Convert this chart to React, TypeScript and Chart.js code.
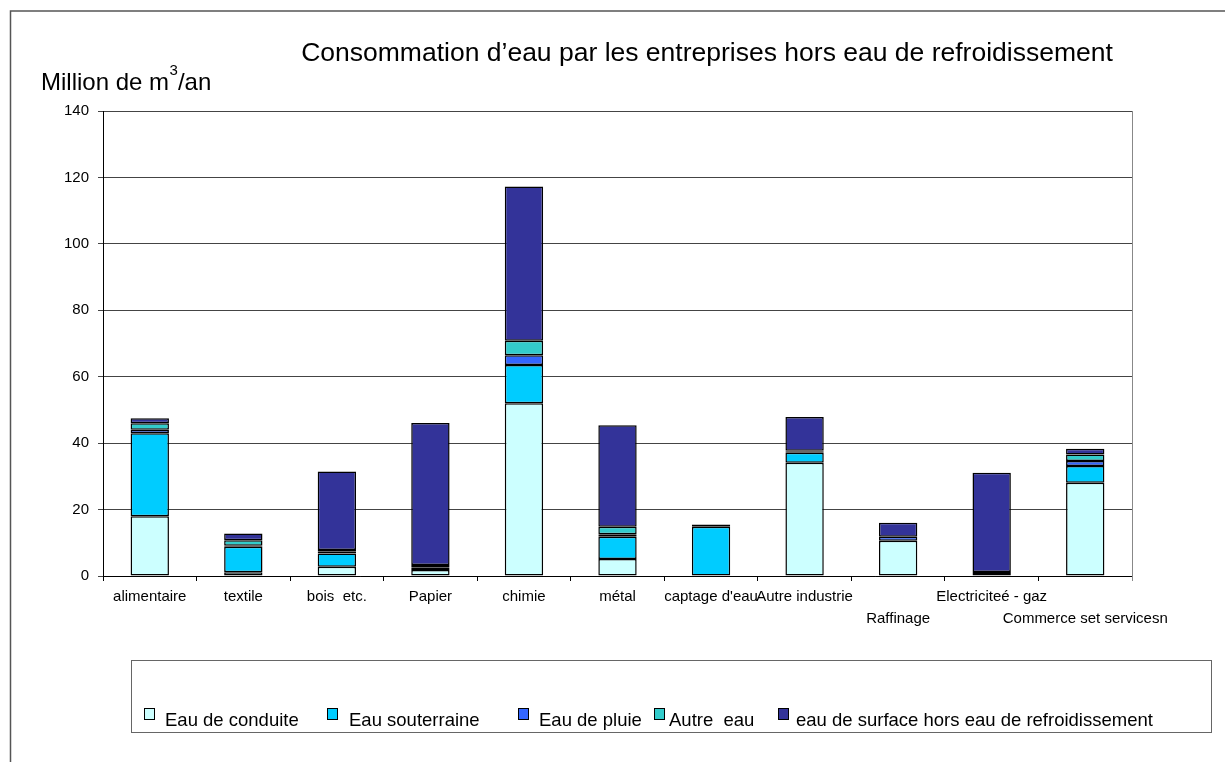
import React, { useEffect, useRef } from "react";
import { Chart, registerables } from "chart.js";

Chart.register(...registerables);

const FONT = '"Liberation Sans", Arial, sans-serif';

const xTickLabels: (string | string[])[] = [
  ["alimentaire"],
  ["textile"],
  ["bois  etc."],
  ["Papier"],
  ["chimie"],
  ["métal"],
  ["captage d'eau"],
  ["Autre industrie"],
  ["", "Raffinage"],
  ["Electriciteé - gaz"],
  ["", "Commerce set servicesn"],
];

const seriesNames = [
  "Eau de conduite",
  "Eau souterraine",
  "Eau de pluie",
  "Autre  eau",
  "eau de surface hors eau de refroidissement",
];
const seriesColors = ["#CCFFFF", "#00CCFF", "#3366FF", "#33CCCC", "#333399"];

const eauConduite = [18, 1.1, 2.8, 1.8, 52, 5.1, 0, 34.1, 10.6, 0.3, 28.1];
const eauSouterraine = [25, 7.7, 4, 0.8, 11.5, 6.7, 14.8, 3, 0, 0, 5];
const eauPluie = [1, 0.3, 0.5, 0.7, 3, 0.8, 0, 0.3, 1.2, 0, 1.5];
const autreEau = [2, 1.7, 0.5, 0, 4.3, 2.2, 0.7, 0.3, 0, 0.9, 2];
const eauSurface = [1.5, 2, 23.7, 42.8, 46.5, 30.6, 0, 10.2, 4.2, 29.9, 1.7];

const yMin = 0;
const yMax = 140;
const yStep = 20;

const titleText = "Consommation d’eau par les entreprises hors eau de refroidissement";

const decorPlugin = {
  id: "decor",
  beforeDraw(chart: any) {
    const ctx = chart.ctx as CanvasRenderingContext2D;
    ctx.save();
    ctx.fillStyle = "#ffffff";
    ctx.fillRect(0, 0, chart.width, chart.height);
    ctx.strokeStyle = "#555555";
    ctx.lineWidth = 1.5;
    ctx.beginPath();
    ctx.moveTo(10.5, chart.height + 2);
    ctx.lineTo(10.5, 11);
    ctx.lineTo(chart.width + 2, 11);
    ctx.stroke();
    ctx.restore();
  },
  afterDraw(chart: any) {
    const ctx = chart.ctx as CanvasRenderingContext2D;
    const area = chart.chartArea;
    ctx.save();
    ctx.strokeStyle = "#888888";
    ctx.lineWidth = 1;
    ctx.beginPath();
    ctx.moveTo(Math.round(area.right) + 0.5, area.top);
    ctx.lineTo(Math.round(area.right) + 0.5, area.bottom + 5);
    ctx.stroke();

    ctx.fillStyle = "#000";
    ctx.textBaseline = "alphabetic";
    ctx.textAlign = "center";
    ctx.font = `26.5px ${FONT}`;
    ctx.fillText(titleText, 707, 61);

    ctx.textAlign = "left";
    ctx.font = `24px ${FONT}`;
    const part1 = "Million de m";
    ctx.fillText(part1, 41, 90);
    let x = 41 + ctx.measureText(part1).width;
    ctx.font = `15px ${FONT}`;
    ctx.fillText("3", x + 0.5, 75);
    x += ctx.measureText("3").width + 0.5;
    ctx.font = `24px ${FONT}`;
    ctx.fillText("/an", x, 90);

    ctx.strokeStyle = "#666666";
    ctx.lineWidth = 1;
    ctx.strokeRect(131.5, 660.5, 1080, 72);

    const markerX = [144, 327, 518, 654, 778];
    const textX = [165, 349, 539, 669, 796];
    ctx.font = `18.5px ${FONT}`;
    ctx.textBaseline = "alphabetic";
    chart.data.datasets.forEach((ds: any, i: number) => {
      ctx.fillStyle = ds.backgroundColor;
      ctx.fillRect(markerX[i], 708, 10, 11);
      ctx.strokeStyle = "#000";
      ctx.lineWidth = 1;
      ctx.strokeRect(markerX[i] + 0.5, 708.5, 10, 11);
      ctx.fillStyle = "#000";
      ctx.fillText(ds.label, textX[i], 726);
    });
    ctx.restore();
  },
};

export default function App() {
  const canvasRef = useRef<HTMLCanvasElement | null>(null);

  useEffect(() => {
    if (!canvasRef.current) return;
    Chart.defaults.font.family = FONT;
    const seriesValues = [eauConduite, eauSouterraine, eauPluie, autreEau, eauSurface];
    const chart = new Chart(canvasRef.current, {
      type: "bar",
      data: {
        labels: xTickLabels as any,
        datasets: seriesValues.map((vals, i) => ({
          label: seriesNames[i],
          data: vals,
          backgroundColor: seriesColors[i],
          borderColor: "#000000",
          borderWidth: 1.5,
          borderSkipped: false,
          barPercentage: 0.41,
          categoryPercentage: 1,
        })),
      },
      options: {
        responsive: false,
        animation: false,
        layout: { padding: { left: 43, right: 93, top: 111, bottom: 136 } },
        plugins: {
          legend: { display: false },
          title: { display: false },
          tooltip: { enabled: false },
        },
        scales: {
          x: {
            stacked: true,
            grid: {
              display: true,
              drawOnChartArea: false,
              drawTicks: true,
              tickLength: 5,
              color: "#000",
              offset: true,
            },
            border: { color: "#000", width: 1 },
            ticks: {
              font: { size: 15, lineHeight: 1.47 },
              color: "#000",
              maxRotation: 0,
              minRotation: 0,
              autoSkip: false,
              padding: 5,
            },
            afterFit: (s: any) => {
              s.height = 50;
            },
          },
          y: {
            stacked: true,
            min: yMin,
            max: yMax,
            ticks: {
              stepSize: yStep,
              font: { size: 15 },
              color: "#000",
              padding: 9,
            },
            grid: { color: "#444444", tickLength: 5, drawTicks: true },
            border: { color: "#000", width: 1 },
            afterFit: (s: any) => {
              s.width = 60;
            },
          },
        },
      },
      plugins: [decorPlugin],
    });
    return () => chart.destroy();
  }, []);

  return (
    <div style={{ position: "fixed", left: 0, top: 0, width: 1225, height: 762 }}>
      <canvas ref={canvasRef} width={1225} height={762} style={{ display: "block" }} />
    </div>
  );
}
